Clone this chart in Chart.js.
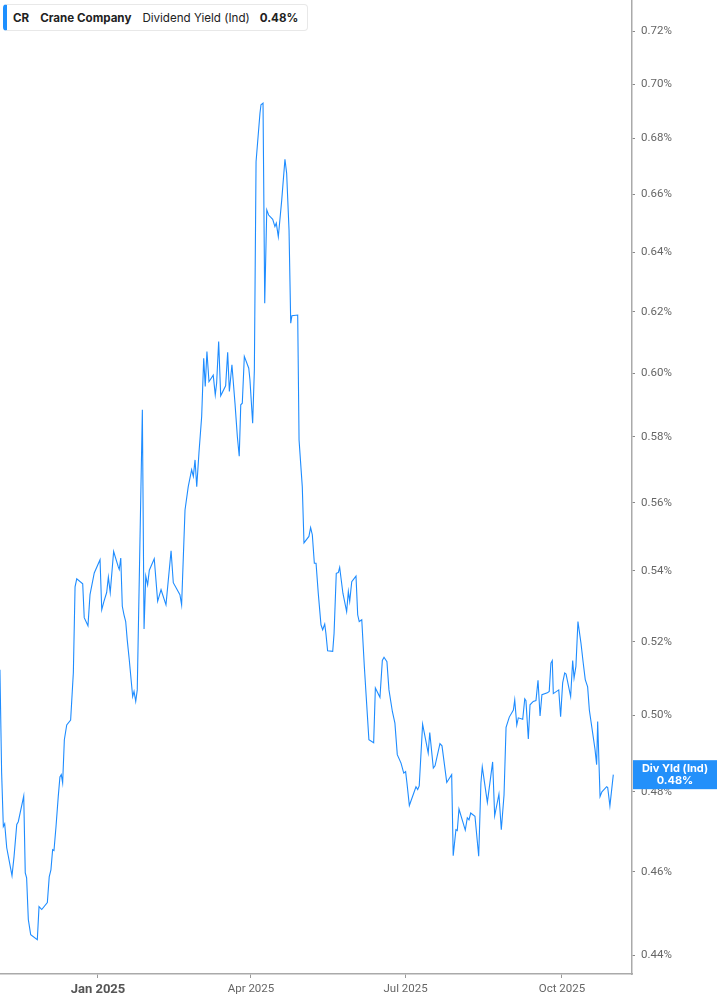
<!DOCTYPE html>
<html>
<head>
<meta charset="utf-8">
<script src="https://cdn.jsdelivr.net/npm/chart.js@4.4.1/dist/chart.umd.min.js"></script>
<style>
  html, body { margin: 0; padding: 0; background: #fff; }
  #wrap { position: relative; width: 717px; height: 1005px; }
  #legend {
    position: absolute; left: 3px; top: 4px; width: 300px; height: 25px;
    border: 1px solid #e8e8e8; border-left: 4px solid #1e90ff; border-radius: 4px;
    background: #fff; font-family: Inter, "Noto Sans", sans-serif; font-size: 11.6px;
    color: #222; display: flex; align-items: center; white-space: nowrap;
  }
  #legend span { margin-left: 6px; }
  #legend .b { font-weight: 700; }
</style>
</head>
<body>
<div id="wrap">
  <canvas id="chart" width="717" height="1005"></canvas>
  <div id="legend">
    <span class="b" style="margin-left:6px">CR</span>
    <span class="b" style="margin-left:11px">Crane Company</span>
    <span style="margin-left:11px">Dividend Yield (Ind)</span>
    <span class="b" style="margin-left:10px">0.48%</span>
  </div>
</div>
<script>
// Days since 2025-01-01 (negative = late 2024)
const days = [
  -57.7, -56.7, -55.7, -54.9, -53.7, -50.6, -49.4, -47.8, -46.9, -43.7,
  -42.8, -42.0, -41.0, -39.6, -35.7, -34.7, -33.1, -29.8, -28.7, -27.7,
  -26.7, -25.9, -24.7, -23.4, -22.4, -21.6, -20.8, -19.8, -18.4, -16.1,
  -14.5, -13.5, -12.5, -9.0, -8.1, -5.9, -4.7, -2.2, 1.2, 2.2,
  3.5, 5.1, 6.1, 7.2, 9.2, 11.9, 12.5, 13.4, 14.3, 15.3,
  16.3, 17.2, 18.4, 20.4, 21.2, 22.2, 23.1, 26.1, 27.1, 28.1,
  29.2, 30.2, 33.1, 35.1, 37.1, 40.0, 43.0, 44.3, 48.2, 49.2,
  51.2, 53.1, 55.1, 56.1, 57.1, 58.1, 59.4, 61.0, 62.2, 63.1,
  64.1, 65.3, 67.8, 69.0, 69.8, 71.0, 72.2, 75.1, 76.3, 77.3,
  78.8, 80.6, 82.0, 83.1, 84.0, 84.9, 86.1, 88.7, 89.4, 91.0,
  92.0, 93.0, 95.3, 95.9, 97.1, 98.1, 99.3, 100.4, 102.8, 104.1,
  104.9, 106.1, 108.1, 110.0, 111.0, 112.4, 113.4, 114.1, 117.5, 118.3,
  120.2, 121.2, 124.1, 125.1, 126.1, 127.3, 128.3, 129.6, 131.2, 132.2,
  133.4, 134.1, 135.1, 138.1, 138.9, 140.2, 141.4, 142.2, 144.1, 146.3,
  147.3, 148.1, 149.3, 151.8, 152.8, 153.7, 155.2, 156.7, 158.3, 159.4,
  162.2, 163.2, 165.9, 167.3, 168.3, 170.0, 171.2, 173.2, 174.7, 176.1,
  178.3, 179.9, 181.0, 181.8, 183.2, 187.1, 188.1, 189.0, 191.0, 194.3,
  195.2, 197.3, 198.3, 201.2, 202.4, 204.0, 205.2, 208.1, 209.0, 210.6,
  211.4, 212.4, 216.1, 217.3, 218.3, 219.3, 221.8, 224.0, 225.3, 226.1,
  229.1, 232.2, 233.4, 235.9, 237.3, 238.9, 240.1, 242.0, 244.4, 245.2,
  246.4, 247.3, 249.9, 251.1, 251.8, 253.2, 254.2, 256.1, 257.7, 258.9,
  260.1, 261.2, 264.4, 265.5, 266.5, 267.3, 267.9, 271.1, 272.2, 273.4,
  274.6, 275.4, 278.1, 279.3, 280.1, 281.2, 282.4, 284.2, 285.5, 286.7,
  288.1, 289.1, 292.4, 293.4, 294.0, 295.4, 296.5, 299.3, 299.9, 301.2,
  303.2
];

// Dividend yield (%)
const yieldPct = [
  0.5123, 0.4849, 0.4712, 0.4719, 0.4659, 0.4590, 0.4637, 0.4717, 0.4724, 0.4789,
  0.4597, 0.4585, 0.4484, 0.4448, 0.4436, 0.4515, 0.4508, 0.4525, 0.4587, 0.4604,
  0.4654, 0.4652, 0.4712, 0.4787, 0.4838, 0.4844, 0.4823, 0.4935, 0.4974, 0.4987,
  0.5115, 0.5354, 0.5377, 0.5363, 0.5267, 0.5244, 0.5332, 0.5394, 0.5432, 0.5289,
  0.5313, 0.5338, 0.5382, 0.5338, 0.5456, 0.5412, 0.5404, 0.5437, 0.5299, 0.5275,
  0.5256, 0.5205, 0.5150, 0.5050, 0.5064, 0.5037, 0.5068, 0.5884, 0.5235, 0.5385,
  0.5360, 0.5402, 0.5435, 0.5313, 0.5346, 0.5303, 0.5458, 0.5366, 0.5332, 0.5303,
  0.5578, 0.5648, 0.5699, 0.5679, 0.5729, 0.5648, 0.5750, 0.5863, 0.6048, 0.5958,
  0.6070, 0.5973, 0.5994, 0.5931, 0.5968, 0.6102, 0.5928, 0.5960, 0.6067, 0.5942,
  0.6027, 0.5905, 0.5800, 0.5740, 0.5900, 0.5905, 0.6054, 0.6016, 0.5979, 0.5842,
  0.6010, 0.6716, 0.6892, 0.6923, 0.6929, 0.6228, 0.6546, 0.6528, 0.6513, 0.6488,
  0.6500, 0.6453, 0.6580, 0.6725, 0.6675, 0.6476, 0.6162, 0.6187, 0.6189, 0.5790,
  0.5648, 0.5481, 0.5500, 0.5526, 0.5505, 0.5422, 0.5422, 0.5336, 0.5247, 0.5233,
  0.5249, 0.5223, 0.5175, 0.5173, 0.5223, 0.5393, 0.5395, 0.5410, 0.5336, 0.5284,
  0.5341, 0.5313, 0.5369, 0.5385, 0.5275, 0.5256, 0.5261, 0.5132, 0.5014, 0.4935,
  0.4927, 0.5073, 0.5048, 0.5148, 0.5157, 0.5145, 0.5068, 0.5010, 0.4979, 0.4896,
  0.4874, 0.4848, 0.4852, 0.4822, 0.4765, 0.4813, 0.4806, 0.4815, 0.4976, 0.4900,
  0.4954, 0.4861, 0.4867, 0.4925, 0.4919, 0.4865, 0.4824, 0.4844, 0.4639, 0.4704,
  0.4702, 0.4756, 0.4703, 0.4734, 0.4729, 0.4746, 0.4738, 0.4638, 0.4822, 0.4864,
  0.4773, 0.4877, 0.4739, 0.4794, 0.4704, 0.4792, 0.4968, 0.4995, 0.5014, 0.5041,
  0.4974, 0.4993, 0.4989, 0.5044, 0.5039, 0.4937, 0.5028, 0.5037, 0.5039, 0.5094,
  0.4998, 0.5055, 0.5060, 0.5064, 0.5141, 0.5148, 0.5058, 0.5068, 0.4996, 0.5087,
  0.5114, 0.5111, 0.5050, 0.5148, 0.5100, 0.5132, 0.5256, 0.5195, 0.5141, 0.5096,
  0.5076, 0.5014, 0.4911, 0.4870, 0.4983, 0.4788, 0.4800, 0.4813, 0.4811, 0.4764,
  0.4844
];

// Axis ticks
const xTickDays = [0, 90, 181, 273];
const xTickLabels = ['Jan 2025', 'Apr 2025', 'Jul 2025', 'Oct 2025'];
const yTicks = [0.44, 0.46, 0.48, 0.50, 0.52, 0.54, 0.56, 0.58, 0.60, 0.62, 0.64, 0.66, 0.68, 0.70, 0.72];

const lineColor = '#1e8cff';

// Last-value badge on the right axis
const lastValueBadge = {
  id: 'lastValueBadge',
  afterDraw(chart) {
    const { ctx, chartArea } = chart;
    const yScale = chart.scales.y;
    const last = yieldPct[yieldPct.length - 1];
    const yPix = yScale.getPixelForValue(last);
    const left = chartArea.right + 1;
    const w = chart.width - left;
    const h = 29;
    ctx.save();
    ctx.fillStyle = '#2390fa';
    ctx.fillRect(left, yPix - h / 2, w, h);
    ctx.fillStyle = '#fff';
    ctx.textAlign = 'center';
    ctx.textBaseline = 'middle';
    ctx.font = 'bold 11px Inter, "Noto Sans", sans-serif';
    ctx.fillText('Div Yld (Ind)', left + w / 2, yPix - 6);
    ctx.fillText(last.toFixed(2) + '%', left + w / 2, yPix + 6);
    ctx.restore();
  }
};

new Chart(document.getElementById('chart'), {
  type: 'line',
  data: {
    datasets: [{
      label: 'Dividend Yield (Ind)',
      data: days.map((d, i) => ({ x: d, y: yieldPct[i] })),
      borderColor: lineColor,
      borderWidth: 1.1,
      pointRadius: 0,
      tension: 0,
      fill: false
    }]
  },
  options: {
    responsive: false,
    animation: false,
    layout: { padding: 0 },
    plugins: { legend: { display: false }, tooltip: { enabled: false } },
    scales: {
      x: {
        type: 'linear',
        min: -57.66,
        max: 314.2,
        afterFit: (scale) => {
          scale.height = 31;
          scale.paddingLeft = 0;
          scale.paddingRight = 0;
        },
        afterBuildTicks: (scale) => { scale.ticks = xTickDays.map(v => ({ value: v })); },
        grid: { drawOnChartArea: false, drawTicks: true, tickLength: 4, color: '#999' },
        border: { display: true, color: '#aaa', width: 1.5 },
        ticks: {
          autoSkip: false,
          maxRotation: 0,
          padding: 4,
          color: (c) => c.index === 0 ? '#555' : '#666',
          font: (c) => c.index === 0
            ? { family: 'Roboto, sans-serif', size: 13, weight: 'bold' }
            : { family: 'Roboto, sans-serif', size: 11.5 },
          callback: (value, index) => xTickLabels[index]
        }
      },
      y: {
        type: 'logarithmic',
        position: 'right',
        min: 0.43557,
        max: 0.73208,
        afterFit: (scale) => {
          scale.width = 85;
          scale.paddingTop = 0;
          scale.paddingBottom = 0;
        },
        afterBuildTicks: (scale) => { scale.ticks = yTicks.map(v => ({ value: v })); },
        grid: { drawOnChartArea: false, drawTicks: true, tickLength: 3, color: '#888' },
        border: { display: true, color: '#aaa', width: 1.5 },
        ticks: {
          padding: 6,
          color: '#666',
          font: { family: 'Roboto, sans-serif', size: 11.5 },
          callback: (value) => Number(value).toFixed(2) + '%'
        }
      }
    }
  },
  plugins: [lastValueBadge]
});
</script>
</body>
</html>
